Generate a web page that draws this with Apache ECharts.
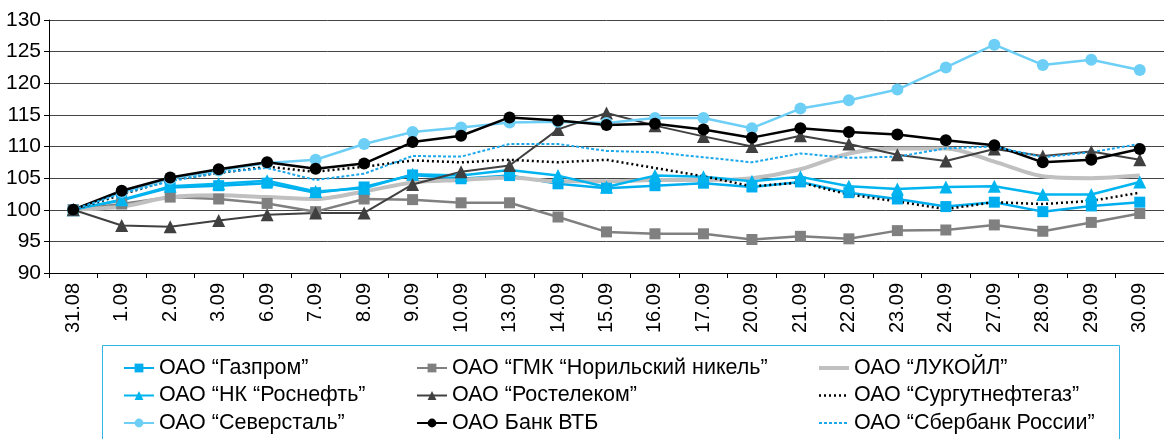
<!DOCTYPE html>
<html><head><meta charset="utf-8">
<script src="https://cdn.jsdelivr.net/npm/echarts@6/dist/echarts.min.js"></script>
<style>html,body{margin:0;padding:0;background:#fff}#c{width:1164px;height:439px}</style>
</head><body><div id="c"></div>
<script>
const categories = ['31.08','1.09','2.09','3.09','6.09','7.09','8.09','9.09','10.09','13.09','14.09','15.09','16.09','17.09','20.09','21.09','22.09','23.09','24.09','27.09','28.09','29.09','30.09'];
const yTicks = [90,95,100,105,110,115,120,125,130];
const gazprom   = [100,101.5,103.5,103.8,104.2,102.7,103.6,105.5,104.9,105.4,104.1,103.4,103.8,104.2,103.6,104.4,102.7,101.7,100.5,101.2,99.7,100.6,101.2];
const nornickel = [100,100.9,102.0,101.7,101.0,99.7,101.7,101.6,101.1,101.1,98.85,96.5,96.2,96.2,95.3,95.8,95.4,96.7,96.8,97.6,96.6,98.0,99.4];
const lukoil    = [100,100.5,102.0,102.3,102.0,101.7,102.9,104.3,104.7,105.1,104.5,104.5,104.7,104.7,105.0,106.4,108.9,109.7,109.7,107.6,105.3,105.0,105.4];
const rosneft   = [100,101.6,103.7,104.1,104.6,102.9,103.4,105.6,105.4,106.3,105.4,103.6,105.4,105.2,104.5,105.2,103.7,103.3,103.6,103.7,102.4,102.4,104.4];
const rostelecom= [100,97.5,97.3,98.3,99.2,99.5,99.5,104.0,106.0,107.0,112.7,115.3,113.3,111.6,110.0,111.7,110.4,108.7,107.7,109.6,108.5,109.2,107.9];
const surgut    = [100,102.4,104.7,105.8,106.8,106.0,106.8,107.8,107.5,107.9,107.5,107.9,106.6,105.3,103.7,104.3,102.4,101.3,100.1,101.2,100.9,101.4,102.7];
const severstal = [100,102.8,104.9,106.2,107.4,107.9,110.4,112.3,113.0,113.8,113.9,113.7,114.5,114.5,112.9,116.0,117.3,119.0,122.5,126.1,122.9,123.7,122.1];
const vtb       = [100,103.0,105.1,106.4,107.5,106.5,107.3,110.7,111.7,114.6,114.1,113.4,113.6,112.7,111.4,112.9,112.3,111.9,111.0,110.2,107.5,107.9,109.6];
const sberbank  = [100,102.6,104.5,105.9,106.6,104.7,105.7,108.5,108.4,110.4,110.4,109.3,109.1,108.3,107.5,108.9,108.2,108.4,109.7,110.0,108.3,109.1,110.4];
const names = ['ОАО “Газпром”','ОАО “ГМК “Норильский никель”','ОАО “ЛУКОЙЛ”','ОАО “НК “Роснефть”','ОАО “Ростелеком”','ОАО “Сургутнефтегаз”','ОАО “Северсталь”','ОАО Банк ВТБ','ОАО “Сбербанк России”'];

const chart = echarts.init(document.getElementById('c'));
const FONT = 'Liberation Sans, Arial, sans-serif';
function ser(name, data, color, symbol, size, lw, ltype, extra){
  return Object.assign({
    name, type:'line', data, symbol: symbol || 'none', symbolSize: size,
    showSymbol: !!symbol, itemStyle:{color}, lineStyle:{color, width:lw, type: ltype||'solid'},
    emphasis:{disabled:true}, animation:false
  }, extra||{});
}
const noMark = (n, w) => ({name:n, itemStyle:{opacity:0}, lineStyle:{width:w}});
const legendText = {fontFamily:FONT, fontSize:21.5, color:'#000', lineHeight:22};
const legCommon = {orient:'vertical', itemWidth:30, itemHeight:11, itemGap:5.5, textStyle:legendText, selectedMode:false, padding:0};
chart.setOption({
  animation:false,
  grid:{left:49, top:20, bottom:166, right:-8, containLabel:false},
  xAxis:{type:'category', data:categories, boundaryGap:true,
    axisLine:{lineStyle:{color:'#000', width:1}},
    axisTick:{show:true, length:5, lineStyle:{color:'#000'}},
    axisLabel:{rotate:90, fontFamily:FONT, fontSize:20, color:'#000', margin:10, interval:0}},
  yAxis:{type:'value', min:yTicks[0], max:yTicks[yTicks.length-1], interval:5,
    axisLine:{show:true, lineStyle:{color:'#000'}},
    axisTick:{show:true, length:5, inside:false, lineStyle:{color:'#000'}},
    splitLine:{lineStyle:{color:'#444', width:1}},
    axisLabel:{fontFamily:FONT, fontSize:21, color:'#000', margin:8}},
  legend:[
    Object.assign({left:123, top:357, data:[names[0],names[3],names[6]]}, legCommon),
    Object.assign({left:416, top:357, data:[names[1],names[4],names[7]]}, legCommon),
    Object.assign({left:817, top:357, data:[noMark(names[2],4),noMark(names[5],2.5),noMark(names[8],2)]}, legCommon)
  ],
  graphic:[{type:'rect', shape:{x:102.5, y:345.5, width:1017, height:120}, style:{fill:'none', stroke:'#33b5e5', lineWidth:1}, silent:true}],
  series:[
    ser(names[0], gazprom, '#00aeef', 'rect', 11, 2.5),
    ser(names[1], nornickel, '#808080', 'rect', 11, 2.5),
    ser(names[2], lukoil, '#c0c0c0', null, 0, 4, 'solid', {smooth:0.3}),
    ser(names[3], rosneft, '#00b4f0', 'triangle', 13, 2.5),
    ser(names[4], rostelecom, '#404040', 'triangle', 13, 2),
    ser(names[5], surgut, '#000000', null, 0, 2.5, [2,3]),
    ser(names[6], severstal, '#6dcff6', 'circle', 12, 2.5),
    ser(names[7], vtb, '#000000', 'circle', 12, 2.5),
    ser(names[8], sberbank, '#1aa7ec', null, 0, 2, [3,2])
  ]
});
</script></body></html>
